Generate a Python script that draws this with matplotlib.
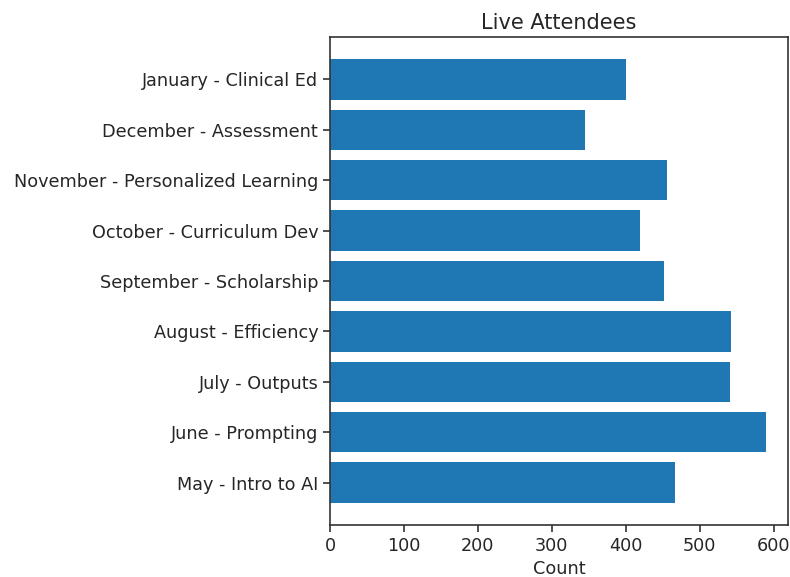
import matplotlib
matplotlib.use("Agg")
import matplotlib.pyplot as plt

categories = [
    "May - Intro to AI",
    "June - Prompting",
    "July - Outputs",
    "August - Efficiency",
    "September - Scholarship",
    "October - Curriculum Dev",
    "November - Personalized Learning",
    "December - Assessment",
    "January - Clinical Ed",
]
counts = [466, 590, 541, 543, 452, 419, 456, 345, 400]
xticks = [0, 100, 200, 300, 400, 500, 600]

plt.rcParams['font.family'] = ['DejaVu Sans']
plt.rcParams['font.size'] = 12.7
plt.rcParams['text.color'] = '#262626'
plt.rcParams['xtick.labelcolor'] = '#262626'
plt.rcParams['ytick.labelcolor'] = '#262626'
plt.rcParams['axes.labelcolor'] = '#262626'

fig = plt.figure(figsize=(7.9, 5.77), dpi=100)
ax = fig.add_axes([330/790, 1 - 525/577, (788-330)/790, (525-37)/577])
ax.barh(categories, counts, color='#1f77b4')
ax.set_xticks(xticks)
ax.set_xlabel("Count", labelpad=4)
ax.set_title("Live Attendees", fontsize=15)
for s in ax.spines.values():
    s.set_linewidth(1.2)
    s.set_edgecolor('#333333')
ax.tick_params(width=1.2, length=5, color='#333333')
fig.savefig("out.png", dpi=100)
